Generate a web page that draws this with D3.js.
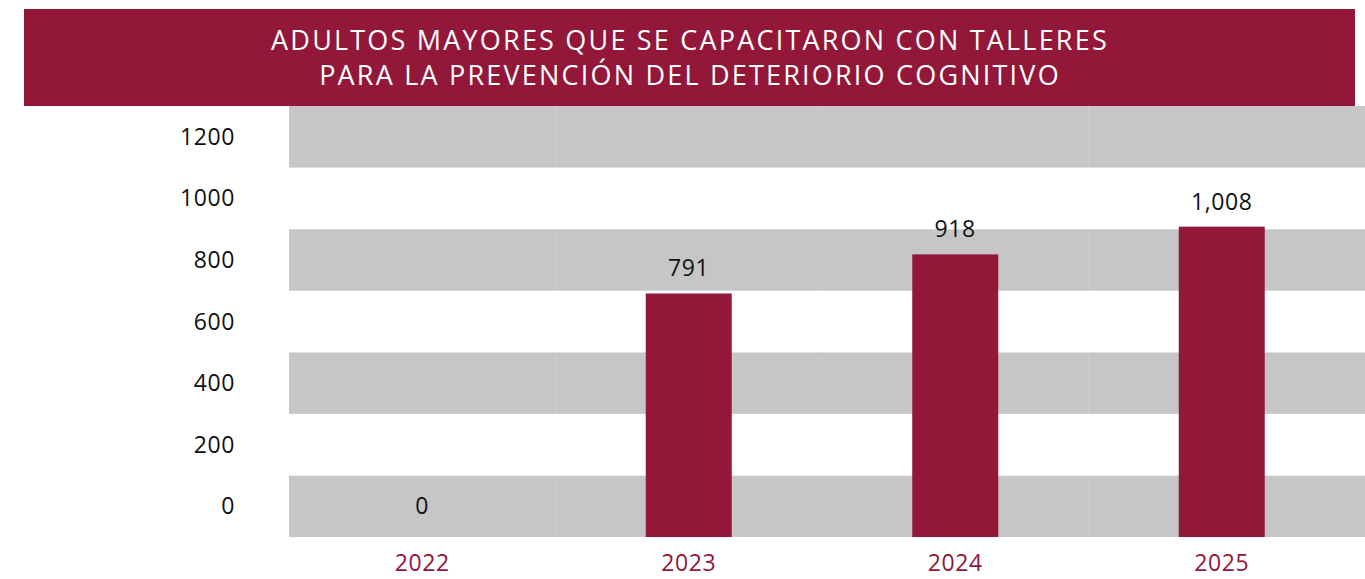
<!DOCTYPE html>
<html>
<head>
<meta charset="utf-8">
<script src="https://cdn.jsdelivr.net/npm/d3@7"></script>
<style>
  body { margin: 0; background: #fff; }
  text { font-family: "Open Sans", "DejaVu Sans", sans-serif; }
</style>
</head>
<body>
<div class="graph"></div>
<script>
// data
var years = ["2022", "2023", "2024", "2025"];
var values = [0, 791, 918, 1008];
var valueLabels = ["0", "791", "918", "1,008"];
var tickValues = [0, 200, 400, 600, 800, 1000, 1200];
var titleLines = ["ADULTOS MAYORES QUE SE CAPACITARON CON TALLERES",
                  "PARA LA PREVENCIÓN DEL DETERIORIO COGNITIVO"];

const w = 1365;
const h = 579;
const wine = "#921739";
const grey = "#c6c6c6";

const svg = d3.select(".graph")
    .append("svg")
    .attr("width", w)
    .attr("height", h);

// header
svg.append("rect")
    .attr("x", 24).attr("y", 9)
    .attr("width", 1331).attr("height", 97)
    .attr("fill", wine);

svg.selectAll(".title")
    .data(titleLines)
    .enter()
    .append("text")
    .attr("class", "title")
    .attr("x", 690)
    .attr("y", (d, i) => 50 + i * 35)
    .attr("text-anchor", "middle")
    .attr("fill", "#fff")
    .style("font-size", "27px")
    .style("letter-spacing", "2.2px")
    .text(d => d);

const xScale = d3.scaleBand()
    .domain(years)
    .range([289, 1355]);

const yScale = d3.scaleLinear()
    .domain([0, 1400])
    .range([537, 106]);

// alternating bands, grey from the bottom
var bands = d3.range(0, 1400, 200);
svg.selectAll(".band")
    .data(bands)
    .enter()
    .append("rect")
    .attr("class", "band")
    .attr("x", 289)
    .attr("width", w - 289)
    .attr("y", d => yScale(d + 200))
    .attr("height", d => yScale(d) - yScale(d + 200))
    .attr("fill", (d, i) => i % 2 === 0 ? grey : "#fff");

// faint seams between categories
svg.selectAll(".seam")
    .data(years.slice(1))
    .enter()
    .append("line")
    .attr("x1", d => xScale(d)).attr("x2", d => xScale(d))
    .attr("y1", 106).attr("y2", 537)
    .attr("stroke", "#fff")
    .attr("stroke-opacity", 0.12);

// y labels sit in the middle of each band
svg.selectAll(".ylab")
    .data(tickValues)
    .enter()
    .append("text")
    .attr("class", "ylab")
    .attr("x", 235)
    .attr("y", d => yScale(d + 100))
    .attr("dy", "0.35em")
    .attr("text-anchor", "end")
    .attr("fill", "#111")
    .style("font-size", "23px")
    .style("letter-spacing", "0.6px")
    .text(d => d);

// bars
const barW = 86;
svg.selectAll(".bar")
    .data(values)
    .enter()
    .append("rect")
    .attr("class", "bar")
    .attr("x", (d, i) => xScale(years[i]) + xScale.bandwidth() / 2 - barW / 2)
    .attr("width", barW)
    .attr("y", d => yScale(d))
    .attr("height", d => yScale(0) - yScale(d))
    .attr("fill", wine);

svg.selectAll(".vlab")
    .data(values)
    .enter()
    .append("text")
    .attr("class", "vlab")
    .attr("x", (d, i) => xScale(years[i]) + xScale.bandwidth() / 2)
    .attr("y", d => yScale(d) - (d === 0 ? 23 : 17))
    .attr("text-anchor", "middle")
    .attr("fill", "#111")
    .style("font-size", "23px")
    .style("letter-spacing", "0.6px")
    .text((d, i) => valueLabels[i]);

// x axis labels
svg.selectAll(".xlab")
    .data(years)
    .enter()
    .append("text")
    .attr("class", "xlab")
    .attr("x", d => xScale(d) + xScale.bandwidth() / 2)
    .attr("y", 571)
    .attr("text-anchor", "middle")
    .attr("fill", wine)
    .style("font-size", "23px")
    .style("letter-spacing", "0.6px")
    .text(d => d);
</script>
</body>
</html>
